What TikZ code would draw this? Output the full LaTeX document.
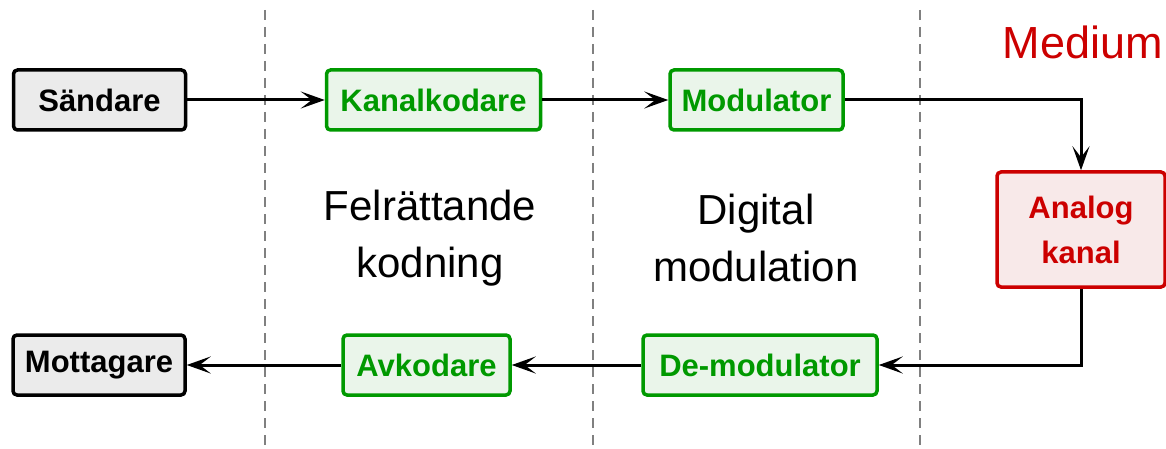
\documentclass[tikz,border=0pt]{standalone}
\usepackage{fontspec}
\setmainfont{Liberation Sans}
\usetikzlibrary{arrows.meta}
\definecolor{gborder}{HTML}{009900}
\definecolor{gfill}{HTML}{EAF5EA}
\definecolor{rborder}{HTML}{CC0000}
\definecolor{rfill}{HTML}{F8E9E9}
\definecolor{kfill}{HTML}{EBEBEB}
\definecolor{dashgray}{HTML}{808080}
\tikzset{
  box/.style={draw, line width=3.5pt, rounded corners=4pt, minimum height=60pt, inner sep=0pt,
    font=\fontsize{31}{45}\selectfont\bfseries, align=center},
  blackbox/.style={box, draw=black, fill=kfill, text=black},
  greenbox/.style={box, draw=gborder, fill=gfill, text=gborder},
  redbox/.style={box, draw=rborder, fill=rfill, text=rborder},
  conn/.style={line width=3pt, -{Stealth[length=24pt,width=17pt,inset=11pt]}},
  sep/.style={draw=dashgray, line width=2.5pt, dash pattern=on 10pt off 7pt},
  bigtext/.style={font=\fontsize{42}{57}\selectfont, align=center, inner sep=0pt},
}
\begin{document}
\begin{tikzpicture}[x=1pt, y=-1pt]
\useasboundingbox (0,0) rectangle (1166,449);
% separators
\coordinate (s1t) at (265,10); \coordinate (s1b) at (265,449);
\coordinate (s2t) at (593,10); \coordinate (s2b) at (593,449);
\coordinate (s3t) at (920,10); \coordinate (s3b) at (920,449);
\draw[sep] (s1t) -- (s1b);
\draw[sep] (s2t) -- (s2b);
\draw[sep] (s3t) -- (s3b);
% nodes
\node[blackbox, minimum width=172pt] (send) at (99.5,100) {Sändare};
\node[greenbox, minimum width=214pt] (kk) at (433.5,100) {Kanalkodare};
\node[greenbox, minimum width=173pt] (mod) at (756.5,100) {Modulator};
\node[redbox, minimum width=168pt, minimum height=115pt] (ana) at (1081,229.5) {Analog\\kanal};
\node[blackbox, minimum width=172pt] (mott) at (99,365) {Mottagare};
\node[greenbox, minimum width=167pt] (avk) at (426.5,365) {Avkodare};
\node[greenbox, minimum width=234pt] (demod) at (760,365) {De-modulator};
\node[bigtext] (felr) at (430,238) {Felrättande\\kodning};
\node[bigtext] (digi) at (756,238) {Digital\\modulation};
\node[font=\fontsize{45}{54}\selectfont, text=rborder, inner sep=0pt] (medium) at (1083,42) {Medium};
% connectors
\draw[conn] (send) -- (kk);
\draw[conn] (kk) -- (mod);
\draw[conn] (mod.east) -| (ana.north);
\draw[conn] (ana.south) |- (demod.east);
\draw[conn] (demod) -- (avk);
\draw[conn] (avk) -- (mott);
\end{tikzpicture}
\end{document}
